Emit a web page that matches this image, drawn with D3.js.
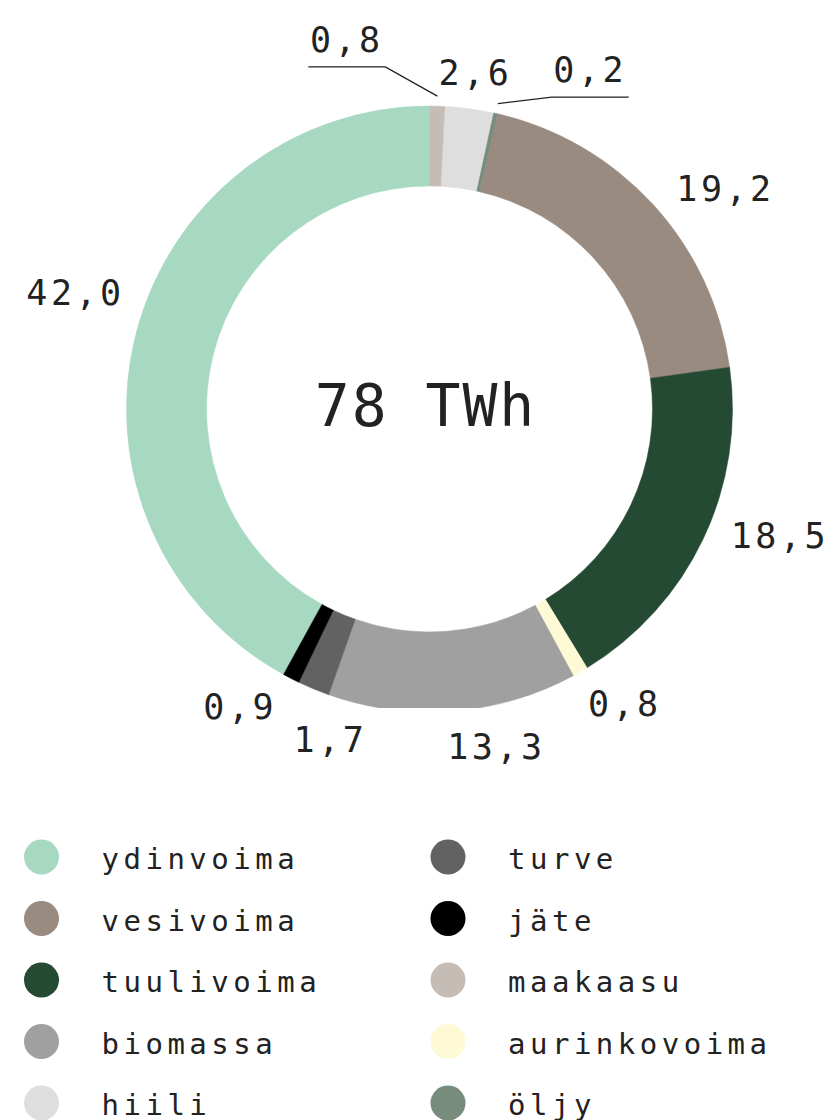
<!DOCTYPE html>
<html>
<head>
<meta charset="utf-8">
<script src="https://cdn.jsdelivr.net/npm/d3@7"></script>
<style>
  body { margin: 0; background: #fff; }
  text { font-family: "DejaVu Sans Mono", "Liberation Mono", monospace; fill: #222; }
</style>
</head>
<body>
<div id="chart"></div>
<script>
// sähkön tuotanto energialähteittäin, %
var categories = ["ydinvoima", "vesivoima", "tuulivoima", "biomassa", "hiili",
                  "turve", "jäte", "maakaasu", "aurinkovoima", "öljy"];
var shares = [42.0, 19.2, 18.5, 13.3, 2.6, 1.7, 0.9, 0.8, 0.8, 0.2];
var colors = ["#a7d8c1", "#9a8b80", "#244a33", "#a0a0a0", "#dedede",
              "#626262", "#000000", "#c6bcb6", "#fffad6", "#778c7c"];
// järjestys kehällä myötäpäivään klo 12:sta
var ringOrder = ["maakaasu", "hiili", "öljy", "vesivoima", "tuulivoima",
                 "aurinkovoima", "biomassa", "turve", "jäte", "ydinvoima"];
var totalLabel = "78 TWh";

var width = 835, height = 1120;
var cx = 429.5, cy = 409;
var outerR = 303, innerR = 223;
var labelR0 = 322;

// pienet käännöt etiketeille (asteina)
var labelTurn = { vesivoima: 5.8, tuulivoima: -5.5, aurinkovoima: -3.7, biomassa: -6.7,
                  turve: -5.8, "jäte": 5.3, ydinvoima: 3.8, hiili: 0.2 };
// viivalliset etiketit
var leaders = {
    maakaasu: { side: -1, turn: -8.8, r: 345 },
    "öljy": { side: 1, turn: 8.8, r: 335 }
};

var data = categories.map(function (c, i) {
    return { name: c, value: shares[i], color: colors[i] };
});

var fmt = d3.formatLocale({ decimal: ",", thousands: " ", grouping: [3], currency: ["", ""] }).format(".1f");

var svg = d3.select("#chart").append("svg")
    .attr("width", width)
    .attr("height", height);

svg.append("defs").append("clipPath").attr("id", "ringclip")
    .append("rect").attr("x", 0).attr("y", 0).attr("width", width).attr("height", 708);

var g = svg.append("g").attr("transform", "translate(" + cx + "," + cy + ")");

var pie = d3.pie()
    .value(function (d) { return d.value; })
    .sort(function (a, b) { return ringOrder.indexOf(a.name) - ringOrder.indexOf(b.name); });

var arcs = pie(data);

var arc = d3.arc().innerRadius(innerR).outerRadius(outerR);

svg.append("g").attr("clip-path", "url(#ringclip)")
    .append("g").attr("transform", "translate(" + cx + "," + cy + ")")
    .selectAll("path")
    .data(arcs)
    .enter().append("path")
    .attr("d", arc)
    .attr("fill", function (d) { return d.data.color; })
    .attr("stroke", function (d) { return d.data.color; })
    .attr("stroke-width", 0.5);

function polar(angDeg, r) {
    var a = angDeg * Math.PI / 180;
    return [r * Math.sin(a), -r * Math.cos(a)];
}
function midDeg(d) { return (d.startAngle + d.endAngle) / 2 * 180 / Math.PI; }

var fs = 35, capH = 0.73 * fs;

arcs.forEach(function (d) {
    var name = d.data.name;
    var t = g.append("text")
        .attr("font-size", fs)
        .attr("letter-spacing", 3.5)
        .attr("text-anchor", "middle")
        .text(fmt(d.data.value));

    if (leaders[name]) {
        var L = leaders[name];
        var p0 = polar(midDeg(d), outerR + 10);
        var p1 = polar(midDeg(d) + L.turn, L.r);
        var p2 = [p1[0] + L.side * 77, p1[1]];
        g.append("polyline")
            .attr("points", [p0, p1, p2].map(function (p) { return p.join(","); }).join(" "))
            .attr("fill", "none")
            .attr("stroke", "#222")
            .attr("stroke-width", 1.3);
        t.attr("x", (p1[0] + p2[0]) / 2).attr("y", p1[1] - 15);
        return;
    }
    var ang = midDeg(d) + (labelTurn[name] || 0);
    var w = t.node().getBBox().width;
    var a = ang * Math.PI / 180;
    var r = labelR0 + Math.abs(Math.sin(a)) * w / 2 + Math.abs(Math.cos(a)) * capH / 2;
    var p = polar(ang, r);
    t.attr("x", p[0]).attr("y", p[1] + capH / 2);
});

g.append("text")
    .attr("x", -4)
    .attr("y", 17)
    .attr("font-size", 58)
    .attr("letter-spacing", 2)
    .attr("text-anchor", "middle")
    .text(totalLabel);

// selite kahdessa sarakkeessa
var legend = svg.append("g").selectAll("g")
    .data(data)
    .enter().append("g")
    .attr("transform", function (d, i) {
        var col = Math.floor(i / 5), row = i % 5;
        return "translate(" + (41.5 + col * 406.5) + "," + (857 + row * 61.5) + ")";
    });

legend.append("circle")
    .attr("r", 17.5)
    .attr("fill", function (d) { return d.color; });

legend.append("text")
    .attr("x", 60)
    .attr("y", 12)
    .attr("font-size", 29)
    .attr("letter-spacing", 4.5)
    .text(function (d) { return d.name; });
</script>
</body>
</html>
